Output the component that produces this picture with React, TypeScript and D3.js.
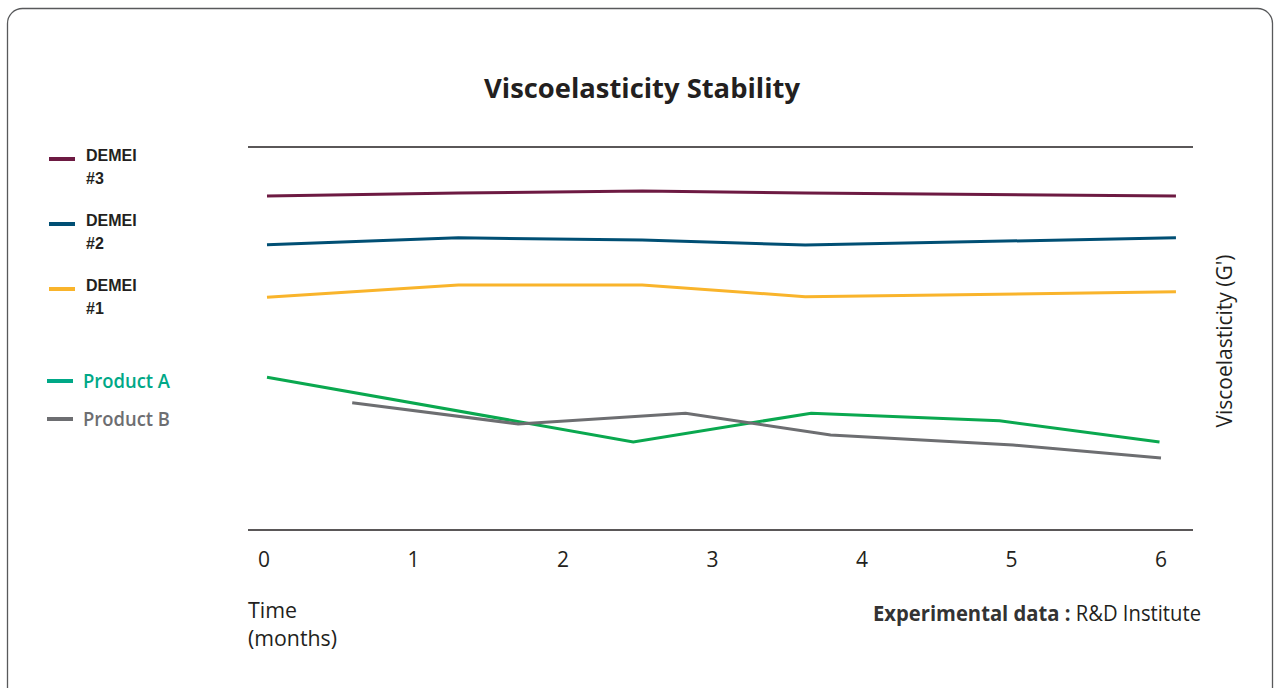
import React, { useEffect, useRef } from "react";
import * as d3 from "d3";

// x tick labels (months)
const months = [0, 1, 2, 3, 4, 5, 6];

// DEMEI series share sample times (months)
const demeiTimes = [0.02, 1.3, 2.53, 3.62, 6.1];
const demei3 = [87.2, 88.0, 88.5, 88.0, 87.2];
const demei2 = [74.5, 76.3, 75.7, 74.4, 76.3];
const demei1 = [60.8, 64.0, 64.0, 60.9, 62.2];

const productATimes = [0.02, 2.47, 3.66, 4.92, 5.99];
const productA = [39.9, 23.0, 30.5, 28.5, 23.0];

const productBTimes = [0.59, 1.7, 2.82, 3.79, 5.01, 6.0];
const productB = [33.2, 27.7, 30.5, 24.8, 22.2, 18.8];

const seriesNames = ["DEMEI #3", "DEMEI #2", "DEMEI #1", "Product A", "Product B"];
const lineColors = ["#6d1a42", "#004f74", "#f9b42b", "#0aa84f", "#6d6e71"];

const W = 1277;
const H = 688;
const ink = "#231f20";
const myriad = "'Open Sans', sans-serif";

export default function App() {
  const ref = useRef<SVGSVGElement>(null);

  useEffect(() => {
    const svg = d3.select(ref.current);
    svg.selectAll("*").remove();

    // frame
    svg
      .append("rect")
      .attr("x", 7.5)
      .attr("y", 8.5)
      .attr("width", 1265)
      .attr("height", 720)
      .attr("rx", 15)
      .attr("fill", "#fff")
      .attr("stroke", "#58595b")
      .attr("stroke-width", 1.3);

    const x = d3.scaleLinear().domain([0, 6]).range([264, 1161]);
    const y = d3.scaleLinear().domain([0, 100]).range([530, 147]);

    // title
    svg
      .append("text")
      .attr("x", 642)
      .attr("y", 98)
      .attr("text-anchor", "middle")
      .attr("textLength", 316)
      .attr("lengthAdjust", "spacingAndGlyphs")
      .style("font-family", myriad)
      .style("font-weight", 700)
      .style("font-size", "26px")
      .style("fill", ink)
      .text("Viscoelasticity Stability");

    // top and bottom rules
    [100, 0].forEach((v) => {
      svg
        .append("line")
        .attr("x1", 248)
        .attr("x2", 1193)
        .attr("y1", y(v))
        .attr("y2", y(v))
        .attr("stroke", ink)
        .attr("stroke-width", 1.5);
    });

    // x tick labels
    svg
      .selectAll(".tick-label")
      .data(months)
      .enter()
      .append("text")
      .attr("class", "tick-label")
      .attr("x", (d) => x(d))
      .attr("y", 567)
      .attr("text-anchor", "middle")
      .style("font-family", myriad)
      .style("font-size", "21px")
      .style("fill", ink)
      .text((d) => String(d));

    // lines
    const line = d3
      .line<[number, number]>()
      .x((d) => x(d[0]))
      .y((d) => y(d[1]));

    const series: [number, number][][] = [
      demeiTimes.map((t, i) => [t, demei3[i]]),
      demeiTimes.map((t, i) => [t, demei2[i]]),
      demeiTimes.map((t, i) => [t, demei1[i]]),
      productATimes.map((t, i) => [t, productA[i]]),
      productBTimes.map((t, i) => [t, productB[i]]),
    ];

    svg
      .selectAll(".series")
      .data(series)
      .enter()
      .append("path")
      .attr("class", "series")
      .attr("d", (d) => line(d))
      .attr("fill", "none")
      .attr("stroke", (_d, i) => lineColors[i])
      .attr("stroke-width", 3);

    // legend: DEMEI entries (two-line labels)
    const legendY = [159, 224, 289, 381, 419];
    const legendSwatch = ["#6d1a42", "#004f74", "#f9b42b", "#00a887", "#6d6e71"];
    seriesNames.forEach((name, i) => {
      const g = svg.append("g").attr("transform", `translate(0,${legendY[i]})`);
      g.append("line")
        .attr("x1", i < 3 ? 49 : 47)
        .attr("x2", i < 3 ? 75 : 73)
        .attr("stroke", legendSwatch[i])
        .attr("stroke-width", 4);
      if (i < 3) {
        const [word, num] = name.split(" ");
        g.append("text")
          .attr("x", 86)
          .attr("y", 2)
          .style("font-family", "'Liberation Sans', Arial, sans-serif")
          .style("font-weight", 700)
          .style("font-size", "16px")
          .style("fill", ink)
          .text(word);
        g.append("text")
          .attr("x", 86)
          .attr("y", 25)
          .style("font-family", "'Liberation Sans', Arial, sans-serif")
          .style("font-weight", 700)
          .style("font-size", "16px")
          .style("fill", ink)
          .text(num);
      } else {
        g.append("text")
          .attr("x", 83)
          .attr("y", 7)
          .attr("textLength", 87)
          .attr("lengthAdjust", "spacingAndGlyphs")
          .style("font-family", myriad)
          .style("font-weight", 600)
          .style("font-size", "19px")
          .style("fill", i === 3 ? "#00a887" : "#6d6e71")
          .text(name);
      }
    });

    // x axis title
    const xt = svg
      .append("text")
      .attr("x", 248)
      .attr("y", 618)
      .style("font-family", myriad)
      .style("font-size", "21px")
      .style("fill", ink);
    xt.append("tspan").attr("x", 248).attr("textLength", 49).attr("lengthAdjust", "spacingAndGlyphs").text("Time");
    xt.append("tspan").attr("x", 248).attr("dy", 28).attr("textLength", 89).attr("lengthAdjust", "spacingAndGlyphs").text("(months)");

    // source note
    const src = svg
      .append("text")
      .attr("x", 873)
      .attr("y", 621)
      .attr("textLength", 328)
      .attr("lengthAdjust", "spacingAndGlyphs")
      .style("font-family", myriad)
      .style("font-size", "21px")
      .style("fill", ink);
    src.append("tspan").style("font-weight", 700).style("fill", "#333").text("Experimental data : ");
    src.append("tspan").text("R&D Institute");

    // y axis title
    svg
      .append("text")
      .attr("transform", "translate(1232,341) rotate(-90)")
      .attr("text-anchor", "middle")
      .attr("textLength", 173)
      .attr("lengthAdjust", "spacingAndGlyphs")
      .style("font-family", myriad)
      .style("font-size", "21px")
      .style("fill", ink)
      .text("Viscoelasticity (G')");
  }, []);

  return (
    <svg
      ref={ref}
      width={W}
      height={H}
      style={{ position: "absolute", left: 0, top: 0, background: "#fff" }}
    />
  );
}
